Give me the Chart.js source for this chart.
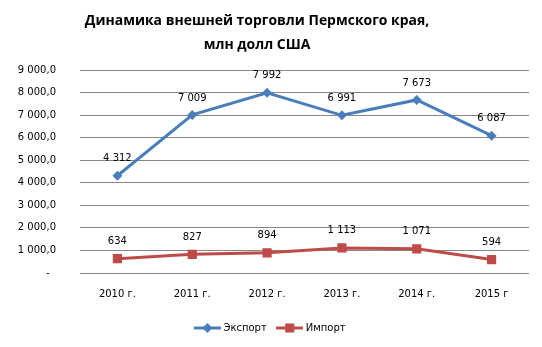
<!DOCTYPE html>
<html>
<head>
<meta charset="utf-8">
<script src="https://cdn.jsdelivr.net/npm/chart.js@4.4.1/dist/chart.umd.min.js"></script>
<style>
  html, body { margin: 0; padding: 0; background: #ffffff; }
  #wrap { width: 542px; height: 347px; }
</style>
</head>
<body>
<div id="wrap"><canvas id="c" width="542" height="347"></canvas></div>
<script>
// Years on the horizontal axis
const years = ['2010 г.', '2011 г.', '2012 г.', '2013 г.', '2014 г.', '2015 г'];
// Foreign trade of Perm Krai, million USD
const exportValues = [4312, 7009, 7992, 6991, 7673, 6087];
const importValues = [634, 827, 894, 1113, 1071, 594];
const seriesNames = ['Экспорт', 'Импорт'];
const titleLines = ['Динамика внешней торговли Пермского края,', 'млн долл США'];

const BLUE = '#4a7ebb';
const RED = '#be4b48';
const FONT = 'DejaVu Sans';

// Group thousands with a space: 7009 -> "7 009"
function groupDigits(n, decimals) {
  const parts = n.toFixed(decimals).split('.');
  parts[0] = parts[0].replace(/\B(?=(\d{3})+(?!\d))/g, ' ');
  return parts.join(',');
}

// Legend swatch: a short line with the series marker in the middle
function legendSwatch(color, shape) {
  const c = document.createElement('canvas');
  c.width = 27; c.height = 12;
  const g = c.getContext('2d');
  g.strokeStyle = color; g.lineWidth = 3;
  g.beginPath(); g.moveTo(0, 6); g.lineTo(27, 6); g.stroke();
  g.fillStyle = color;
  g.beginPath();
  if (shape === 'diamond') {
    g.moveTo(13.5, 1); g.lineTo(18.5, 6); g.lineTo(13.5, 11); g.lineTo(8.5, 6);
  } else {
    g.rect(9, 1.5, 9, 9);
  }
  g.closePath(); g.fill();
  return c;
}

// Value labels above every point
const valueLabels = {
  id: 'valueLabels',
  afterDatasetsDraw(chart) {
    const ctx = chart.ctx;
    ctx.save();
    ctx.font = '10px "' + FONT + '"';
    ctx.fillStyle = '#000000';
    ctx.textAlign = 'center';
    ctx.textBaseline = 'middle';
    chart.data.datasets.forEach((ds, i) => {
      const meta = chart.getDatasetMeta(i);
      meta.data.forEach((pt, j) => {
        ctx.fillText(groupDigits(ds.data[j], 0), pt.x, pt.y - 17);
      });
    });
    ctx.restore();
  }
};

// Two-line heading above the plot, slightly condensed, set a little left of centre
const heading = {
  id: 'heading',
  afterDraw(chart) {
    const ctx = chart.ctx;
    const cx = 257, squeeze = 0.93;
    ctx.save();
    ctx.font = 'bold 15px "Open Sans"';
    ctx.fillStyle = '#000000';
    ctx.textAlign = 'center';
    ctx.textBaseline = 'middle';
    ctx.translate(cx, 0);
    ctx.scale(squeeze, 1);
    titleLines.forEach((line, i) => ctx.fillText(line, 0, 21 + i * 24));
    ctx.restore();
  }
};

new Chart(document.getElementById('c'), {
  type: 'line',
  data: {
    labels: years,
    datasets: [
      {
        label: seriesNames[0],
        data: exportValues,
        borderColor: BLUE,
        backgroundColor: BLUE,
        borderWidth: 3,
        pointStyle: 'rectRot',
        pointRadius: 5,
        pointBorderWidth: 0,
        tension: 0
      },
      {
        label: seriesNames[1],
        data: importValues,
        borderColor: RED,
        backgroundColor: RED,
        borderWidth: 3,
        pointStyle: 'rect',
        pointRadius: 6.5,
        pointBorderWidth: 0,
        tension: 0
      }
    ]
  },
  options: {
    responsive: false,
    animation: false,
    devicePixelRatio: 1,
    layout: { padding: { left: 0, right: 0, top: 70, bottom: 4 } },
    scales: {
      x: {
        offset: true,
        grid: { display: false },
        border: { display: false },
        ticks: {
          color: '#000000',
          font: { family: FONT, size: 10 },
          padding: 7,
          maxRotation: 0
        },
        afterFit(scale) { scale.height = 38; }
      },
      y: {
        min: 0,
        max: 9000,
        grid: { color: '#868686', lineWidth: 1, drawTicks: false },
        border: { display: false },
        ticks: {
          stepSize: 1000,
          color: '#000000',
          font: { family: FONT, size: 10 },
          padding: 24,
          callback(v) { return v === 0 ? '-  ' : groupDigits(v, 1); }
        },
        afterFit(scale) { scale.width = 80; }
      },
      // empty margin on the right of the plot
      yRight: {
        position: 'right',
        display: true,
        grid: { display: false, drawTicks: false },
        border: { display: false },
        ticks: { display: false },
        afterFit(scale) { scale.width = 13; }
      }
    },
    plugins: {
      title: { display: false },
      legend: {
        position: 'bottom',
        labels: {
          usePointStyle: true,
          pointStyleWidth: 22,
          color: '#000000',
          font: { family: FONT, size: 10 },
          padding: 12,
          generateLabels(chart) {
            return chart.data.datasets.map((ds, i) => ({
              text: ds.label,
              pointStyle: legendSwatch(ds.borderColor, i === 0 ? 'diamond' : 'square'),
              fillStyle: ds.borderColor,
              strokeStyle: ds.borderColor,
              lineWidth: 0,
              hidden: false,
              datasetIndex: i,
              fontColor: '#000000'
            }));
          }
        }
      },
      tooltip: { enabled: false }
    }
  },
  plugins: [valueLabels, heading]
});
</script>
</body>
</html>
